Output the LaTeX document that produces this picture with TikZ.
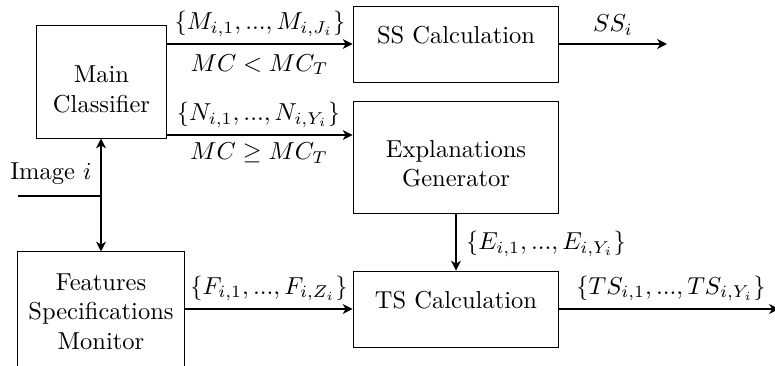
\documentclass[tikz,border=0pt]{standalone}
\usetikzlibrary{arrows.meta}
\tikzset{
  box/.style={draw, rectangle, inner sep=0pt},
  txt/.style={align=center, inner sep=0pt},
  lbl/.style={inner sep=0pt},
  arrow/.style={thick, -{Stealth[length=4pt,width=4pt,inset=1.2pt]}},
  wire/.style={thick}
}
\begin{document}
\begin{tikzpicture}[x=0.408pt, y=-0.408pt]
\useasboundingbox (0,0) rectangle (775,365);
% boxes
\node[box, minimum width=53.4pt, minimum height=46.1pt] (mc) at (101.5,81.5) {};
\node[box, minimum width=84.0pt, minimum height=31.0pt] (ss) at (456,44) {};
\node[box, minimum width=84.0pt, minimum height=45.7pt] (eg) at (456,157) {};
\node[box, minimum width=84.0pt, minimum height=31.0pt] (ts) at (456,309) {};
\node[box, minimum width=68.5pt, minimum height=49.0pt] (fsm) at (101,312) {};
% box texts
\node[txt] (mct) at (101.5,89.5) {Main\\Classifier};
\node[txt] (sst) at (456,35) {SS Calculation};
\node[txt] (egt) at (456,164) {Explanations\\Generator};
\node[txt] (tst) at (456,300.5) {TS Calculation};
\node[txt] (fsmt) at (101,311.5) {Features\\Specifications\\Monitor};
% coordinates
\coordinate (y2) at (0,135);
\coordinate (ssout) at (667,44);
\coordinate (imgin) at (18,196);
\coordinate (junc) at (101,196);
\coordinate (tsout) at (779,309);
% connectors
\draw[arrow] (mc.east |- ss.west) -- (ss.west);
\draw[arrow] (mc.east |- y2) -- (eg.west |- y2);
\draw[arrow] (ss.east) -- (ssout);
\draw[wire] (imgin) -- (junc);
\draw[arrow] (junc) -- (junc |- mc.south);
\draw[arrow] (junc) -- (junc |- fsm.north);
\draw[arrow] (eg.south) -- (ts.north);
\draw[arrow] (fsm.east |- ts.west) -- (ts.west);
\draw[arrow] (ts.east) -- (tsout);
% labels
\node[lbl] (lm) at (260,24) {$\{M_{i,1}, ..., M_{i,J_i}\}$};
\node[lbl] (lmc1) at (259.5,64.5) {$MC < MC_T$};
\node[lbl] (ln) at (258.5,115) {$\{N_{i,1}, ..., N_{i,Y_i}\}$};
\node[lbl] (lmc2) at (259,153) {$MC \geq MC_T$};
\node[lbl] (lss) at (613,25) {$SS_i$};
\node[lbl] (limg) at (51,174) {Image $i$};
\node[lbl] (le) at (546,244) {$\{E_{i,1}, ..., E_{i,Y_i}\}$};
\node[lbl] (lf) at (269,288.5) {$\{F_{i,1}, ..., F_{i,Z_i}\}$};
\node[lbl] (lts) at (671,288.5) {$\{TS_{i,1}, ..., TS_{i,Y_i}\}$};
\end{tikzpicture}
\end{document}
